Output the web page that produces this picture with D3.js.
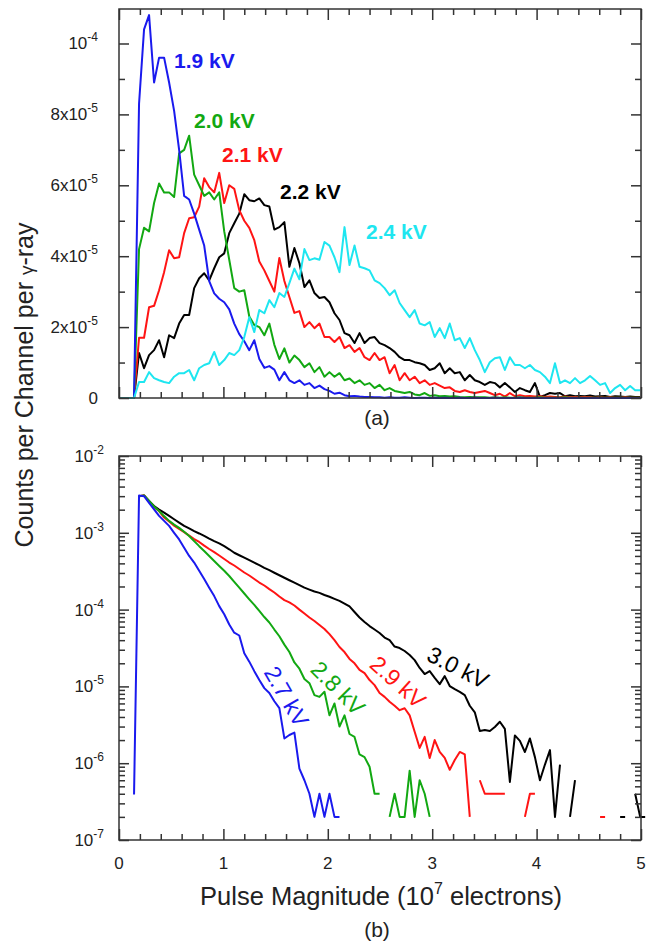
<!DOCTYPE html>
<html><head><meta charset="utf-8">
<script src="https://cdn.jsdelivr.net/npm/d3@7"></script>
<style>body{margin:0;background:#fff} svg{display:block}</style>
</head><body>
<svg id="c" width="649" height="948"></svg>
<script>
// ---------------- DATA ----------------
const binWidth = 0.048;              // channel width, 10^7 electrons
const xTicks = [0, 1, 2, 3, 4, 5];
const topTickValues = [0, 2, 4, 6, 8, 10];   // units of 1e-5
const topTickLabels = ["0", "2x10|-5", "4x10|-5", "6x10|-5", "8x10|-5", "10|-4"];
const botTickValues = [1e-7, 1e-6, 1e-5, 1e-4, 1e-3, 1e-2];
const botTickLabels = ["10|-7", "10|-6", "10|-5", "10|-4", "10|-3", "10|-2"];

const topSeriesNames = ["2.2 kV", "2.1 kV", "2.0 kV", "1.9 kV", "2.4 kV"];
const botSeriesNames = ["3.0 kV", "2.9 kV", "2.8 kV", "2.7 kV"];

// (a) counts per channel per gamma-ray, in units of 1e-5
const kv19 = [0,0,0, 0, 8.3, 10.4, 10.8, 8.9, 9.6, 9.6, 8.9, 8.1, 7.0,
  5.7, 5.6, 5.2, 4.75, 4.3, 3.3, 2.95, 2.8, 2.7, 2.5,
  2.1, 1.8, 1.6, 1.35, 1.63, 1.1, 0.85, 0.9, 0.8, 0.5,
  0.73, 0.5, 0.42, 0.5, 0.37, 0.42, 0.28, 0.35, 0.25, 0.2,
  0.12, 0.15, 0.08, 0.05, 0.06, 0.04, 0.03, 0.03, 0.02, 0.02,
  0.01, 0.02, 0.01, 0.01, 0.02, 0.01, 0, 0.01, 0.01, 0,
  0.01, 0, 0.01, 0, 0, 0.01, 0, 0, 0.01, 0,
  0, 0, 0.01, 0, 0, 0, 0, 0.01, 0, 0,
  0, 0, 0, 0, 0, 0, 0, 0, 0, 0,
  0, 0, 0, 0, 0, 0, 0, 0, 0, 0, 0, 0];
const kv20 = [0,0,0, 0, 4.2, 4.8, 4.7, 5.5, 6.05, 5.8, 5.8, 5.67, 6.9,
  7.0, 7.4, 6.3, 6.0, 5.7, 5.8, 5.6, 5.8, 4.7, 3.9,
  3.1, 3.0, 3.04, 2.3, 2.06, 2.0, 1.77, 2.1, 1.5, 1.1,
  1.4, 1.0, 1.2, 1.07, 0.87, 0.98, 0.73, 0.87, 0.6, 0.73,
  0.6, 0.7, 0.5, 0.55, 0.42, 0.5, 0.37, 0.42, 0.28, 0.37,
  0.22, 0.28, 0.2, 0.17, 0.14, 0.17, 0.1, 0.08, 0.14, 0.06,
  0.08, 0.05, 0.06, 0.04, 0.05, 0.03, 0.02, 0.03, 0.02, 0.02,
  0.02, 0.01, 0.02, 0.01, 0.02, 0.01, 0.01, 0.02, 0.01, 0.01,
  0.01, 0.02, 0.01, 0.01, 0.01, 0.01, 0.02, 0.01, 0.01, 0.01,
  0.01, 0.01, 0.01, 0.01, 0.01, 0.01, 0.01, 0.01, 0.01, 0.01, 0.01, 0.01];
const kv21 = [0,0,0, 0, 1.7, 1.7, 2.56, 2.6, 3.04, 3.55, 4.17, 3.94, 3.97,
  4.65, 5.07, 5.1, 5.4, 6.2, 5.95, 5.8, 6.35, 5.5, 6.0,
  5.9, 5.3, 5.0, 4.8, 4.45, 3.85, 3.6, 3.3, 3.0, 3.95,
  3.3, 2.85, 2.4, 2.45, 2.0, 2.14, 1.97, 2.1, 1.72, 1.72,
  1.58, 1.72, 1.41, 1.49, 1.3, 1.41, 1.15, 1.07, 1.27, 1.07,
  1.15, 0.7, 0.93, 0.5, 0.7, 0.5, 0.6, 0.42, 0.5, 0.37,
  0.42, 0.35, 0.28, 0.3, 0.2, 0.17, 0.22, 0.17, 0.14, 0.17,
  0.2, 0.14, 0.08, 0.12, 0.04, 0.14, 0.05, 0.08, 0.05, 0.06,
  0.04, 0.05, 0.03, 0.04, 0.03, 0.02, 0.04, 0.02, 0.03, 0.02,
  0.03, 0.02, 0.01, 0.02, 0.01, 0.02, 0.01, 0.01, 0.02, 0.01, 0.01, 0.01];
const kv22 = [0,0,0, 0, 1.27, 0.84, 1.21, 1.35, 1.63, 1.15, 1.77, 1.69, 2.1,
  2.34, 2.34, 3.1, 3.38, 3.52, 3.32, 3.66, 3.97, 4.08, 4.65,
  4.93, 5.2, 5.75, 5.58, 5.55, 5.63, 5.44, 5.4, 4.75, 4.82,
  4.96, 3.7, 4.23, 3.8, 3.13, 3.32, 2.96, 2.82, 2.85, 2.7,
  2.39, 2.2, 1.83, 1.77, 1.55, 1.83, 1.55, 1.69, 1.72, 1.55,
  1.49, 1.41, 1.3, 1.15, 1.07, 1.07, 1.01, 0.98, 0.93, 0.79,
  0.84, 0.98, 0.7, 0.84, 0.7, 0.73, 0.5, 0.65, 0.5, 0.45,
  0.37, 0.45, 0.42, 0.3, 0.42, 0.3, 0.17, 0.28, 0.22, 0.17,
  0.42, 0.03, 0.08, 0.14, 0.12, 0.14, 0.05, 0.08, 0.05, 0.06,
  0.05, 0.07, 0.04, 0.05, 0.06, 0.03, 0.05, 0.04, 0.03, 0.04, 0.03, 0.03];
const kv24 = [0,0,0, 0, 0.45, 0.45, 0.73, 0.56, 0.5, 0.45, 0.42, 0.6, 0.7,
  0.7, 0.79, 0.5, 0.84, 0.93, 0.98, 1.3, 0.93, 1.07, 1.27,
  1.21, 1.35, 1.72, 2.28, 1.86, 2.48, 2.39, 2.76, 2.56, 2.96,
  2.85, 3.24, 3.65, 3.35, 4.2, 3.89, 3.94, 3.9, 4.4, 4.3,
  3.97, 3.55, 4.82, 3.75, 4.3, 3.7, 3.66, 3.6, 3.32, 3.24,
  3.1, 2.9, 3.04, 2.68, 2.48, 2.28, 2.48, 2.1, 2.05, 2.14,
  1.72, 1.97, 1.69, 2.1, 1.63, 1.69, 1.41, 1.69, 1.35, 1.07,
  0.73, 1.01, 1.12, 1.15, 0.79, 1.15, 0.93, 0.93, 0.84, 0.93,
  0.79, 0.73, 0.6, 0.42, 0.98, 0.42, 0.5, 0.42, 0.56, 0.42,
  0.5, 0.62, 0.5, 0.37, 0.42, 0.14, 0.28, 0.37, 0.22, 0.34, 0.22, 0.22];

// (b) counts per channel per gamma-ray (log), null = empty channel
const kv27 = [null,null,null, 3.9e-7, 3.07e-3, 3.0e-3, 2.46e-3, 2.02e-3, 1.66e-3, 1.43e-3, 1.23e-3, 1.0e-3, 8.2e-4,
  6.4e-4, 5.0e-4, 4.1e-4, 3.2e-4, 2.5e-4, 1.93e-4, 1.5e-4, 1.11e-4, 8.7e-5, 6.4e-5,
  5.0e-5, 4.6e-5, 2.7e-5, 2.1e-5, 1.58e-5, 1.21e-5, 9.5e-6, 8.2e-6, 6.4e-6, 5.2e-6,
  2.1e-6, 2.33e-6, 2.5e-6, 8.5e-7, 6e-7, 4e-7, 2e-7, 4e-7, 2e-7, 4e-7,
  2e-7, 2e-7];
const kv28 = [null,null,null, null, 3.0e-3, 3.07e-3, 2.6e-3, 2.2e-3, 1.92e-3, 1.65e-3, 1.43e-3, 1.28e-3, 1.16e-3,
  1.03e-3, 9.1e-4, 7.8e-4, 6.7e-4, 5.8e-4, 5.0e-4, 4.3e-4, 3.7e-4, 3.2e-4, 2.74e-4,
  2.3e-4, 1.93e-4, 1.62e-4, 1.36e-4, 1.15e-4, 9.6e-5, 8.0e-5, 6.8e-5, 5.5e-5, 4.5e-5,
  3.5e-5, 2.8e-5, 2.05e-5, 1.7e-5, 1.25e-5, 1.1e-5, 7.7e-6, 7.3e-6, 8.5e-6, 4.2e-6,
  6.0e-6, 3.0e-6, 4.2e-6, 2.4e-6, 2.2e-6, 1.3e-6, 1.2e-6, 9e-7, 4e-7, 4e-7,
  null, 2e-7, 4e-7, 2e-7, 2e-7, 8e-7, 2e-7, 6e-7, 4e-7, 2e-7];
const kv29 = [null,null,null, null, 3.0e-3, 3.07e-3, 2.52e-3, 2.15e-3, 1.92e-3, 1.58e-3, 1.4e-3, 1.24e-3, 1.12e-3,
  1.02e-3, 9.2e-4, 8.3e-4, 7.6e-4, 6.8e-4, 6.15e-4, 5.6e-4, 5.06e-4, 4.56e-4, 4.1e-4,
  3.75e-4, 3.38e-4, 3.04e-4, 2.78e-4, 2.5e-4, 2.25e-4, 2.06e-4, 1.85e-4, 1.67e-4, 1.48e-4,
  1.33e-4, 1.24e-4, 1.13e-4, 1.0e-4, 8.9e-5, 7.9e-5, 7.1e-5, 6.3e-5, 5.6e-5, 4.8e-5,
  4.0e-5, 3.26e-5, 2.8e-5, 2.28e-5, 2.0e-5, 1.64e-5, 1.49e-5, 1.21e-5, 1.04e-5, 8.2e-6,
  7.3e-6, 6.3e-6, 5.6e-6, 4.9e-6, 5.2e-6, 4.2e-6, 2.57e-6, 1.58e-6, 2.2e-6, 1.17e-6,
  2.0e-6, 1.4e-6, 1.17e-6, 8.2e-7, 1.1e-6, 1.4e-6, 1.3e-6, 2e-7, null, 6e-7,
  4e-7, 4e-7, 4e-7, 4e-7, 4e-7, null, null, null, 2e-7, 4e-7,
  4e-7, null, null, null, null, null, null, null, null, null,
  null, null, null, 2e-7, 2e-7];
const kv30 = [null,null,null, null, 3.0e-3, 3.07e-3, 2.6e-3, 2.23e-3, 2.01e-3, 1.83e-3, 1.66e-3, 1.5e-3, 1.36e-3,
  1.23e-3, 1.14e-3, 1.05e-3, 9.8e-4, 9.1e-4, 8.4e-4, 7.8e-4, 7.3e-4, 6.7e-4, 6.1e-4,
  5.5e-4, 5.1e-4, 4.74e-4, 4.4e-4, 4.08e-4, 3.79e-4, 3.5e-4, 3.26e-4, 3.02e-4, 2.8e-4,
  2.6e-4, 2.41e-4, 2.24e-4, 2.08e-4, 1.93e-4, 1.82e-4, 1.72e-4, 1.65e-4, 1.55e-4, 1.47e-4,
  1.38e-4, 1.3e-4, 1.2e-4, 1.1e-4, 9.3e-5, 7.9e-5, 6.9e-5, 6.1e-5, 5.5e-5, 4.96e-5,
  4.33e-5, 4.0e-5, 3.3e-5, 3.16e-5, 2.89e-5, 2.56e-5, 2.2e-5, 1.74e-5, 1.45e-5, 1.58e-5,
  1.29e-5, 1.07e-5, 1.36e-5, 1.01e-5, 9.2e-6, 8.5e-6, 7.7e-6, 5.6e-6, 4.6e-6, 2.63e-6,
  2.7e-6, 2.63e-6, 2.96e-6, 3.47e-6, 2.8e-6, 5.7e-7, 2.3e-6, 1.95e-6, 1.4e-6, 2.1e-6,
  1.2e-6, 6e-7, 9.6e-7, 1.48e-6, 2e-7, 9.6e-7, null, 2e-7, 6e-7, null,
  null, null, null, null, null, null, null, 2e-7, 2e-7, null,
  4e-7, 2e-7, 2e-7];

// ---------------- LAYOUT ----------------
const svg = d3.select("#c");
const L = 119, R = 641;
const topT = 9, topB = 398, botT = 456, botB = 840;
const FONT = "'Liberation Sans', Arial, Helvetica, sans-serif";
const AX = "#333";

const x = d3.scaleLinear().domain([0, 5]).range([L, R]);
const yTop = d3.scaleLinear().domain([0, 10.973]).range([topB, topT]);
const yBot = d3.scaleLog().domain([1e-7, 1e-2]).range([botB, botT]);

const colorTop = {"1.9 kV": "#1a1aee", "2.0 kV": "#12a812", "2.1 kV": "#ff1414", "2.2 kV": "#000000", "2.4 kV": "#1ee6f0"};
const colorBot = {"2.7 kV": "#1a1aee", "2.8 kV": "#12a812", "2.9 kV": "#ff1414", "3.0 kV": "#000000"};
const topData = {"1.9 kV": kv19, "2.0 kV": kv20, "2.1 kV": kv21, "2.2 kV": kv22, "2.4 kV": kv24};
const botData = {"2.7 kV": kv27, "2.8 kV": kv28, "2.9 kV": kv29, "3.0 kV": kv30};

function pts(arr) { return arr.map((v, i) => ({x: i * binWidth, v})); }

// lines
const lineTop = d3.line().x(d => x(d.x)).y(d => yTop(d.v));
const lineBot = d3.line().defined(d => d.v != null && d.v > 0).x(d => x(d.x)).y(d => yBot(d.v));

const gLines = svg.append("g").attr("fill", "none").attr("stroke-width", 2).attr("stroke-linejoin", "round");
topSeriesNames.forEach(n => {
  gLines.append("path").attr("d", lineTop(pts(topData[n]))).attr("stroke", colorTop[n]);
});
botSeriesNames.forEach(n => {
  gLines.append("path").attr("d", lineBot(pts(botData[n]))).attr("stroke", colorBot[n]);
});

// frames
[[topT, topB], [botT, botB]].forEach(([t, b]) => {
  svg.append("rect").attr("x", L).attr("y", t).attr("width", R - L).attr("height", b - t)
    .attr("fill", "none").attr("stroke", AX).attr("stroke-width", 1.5);
});

// tick helper (inward ticks)
function ticks(axisFn, scale, values, size, tx, ty) {
  const g = svg.append("g").attr("transform", `translate(${tx},${ty})`)
    .call(axisFn(scale).tickValues(values).tickSize(-size).tickFormat(""));
  g.select(".domain").remove();
  g.selectAll("line").attr("stroke", AX).attr("stroke-width", 1.5);
}
const xMinor = d3.range(0, 5.0001, 0.2).filter(v => Math.abs(v - Math.round(v)) > 1e-6);
[[topT, topB], [botT, botB]].forEach(([t, b]) => {
  ticks(d3.axisBottom, x, xTicks, 11, 0, b);
  ticks(d3.axisBottom, x, xMinor, 6, 0, b);
  ticks(d3.axisTop, x, xTicks, 11, 0, t);
  ticks(d3.axisTop, x, xMinor, 6, 0, t);
});
const yTopMinor = [1, 3, 5, 7, 9];
ticks(d3.axisLeft, yTop, topTickValues, 10, L, 0);
ticks(d3.axisLeft, yTop, yTopMinor, 6, L, 0);
ticks(d3.axisRight, yTop, topTickValues, 10, R, 0);
ticks(d3.axisRight, yTop, yTopMinor, 6, R, 0);
const botMinor = [];
botTickValues.slice(0, -1).forEach(d => { for (let m = 2; m <= 9; m++) botMinor.push(d * m); });
ticks(d3.axisLeft, yBot, botTickValues, 10, L, 0);
ticks(d3.axisLeft, yBot, botMinor, 6, L, 0);
ticks(d3.axisRight, yBot, botTickValues, 10, R, 0);
ticks(d3.axisRight, yBot, botMinor, 6, R, 0);

// tick labels with superscripts
function supLabel(g, str, xx, yy, anchor) {
  const [base, sup] = str.split("|");
  const t = g.append("text").attr("x", xx).attr("y", yy).attr("text-anchor", anchor)
    .attr("font-family", FONT).attr("font-size", 17).attr("fill", "#222");
  t.append("tspan").text(base);
  if (sup) t.append("tspan").attr("font-size", 12).attr("dy", -8).text(sup);
}
const gl = svg.append("g");
topTickValues.forEach((v, i) => supLabel(gl, topTickLabels[i], 98, yTop(v) + 6, "end"));
botTickValues.forEach((v, i) => supLabel(gl, botTickLabels[i], 104, yBot(v) + 6, "end"));
xTicks.forEach(v => supLabel(gl, String(v), x(v), 869, "middle"));

// panel tags
svg.append("text").attr("x", 377).attr("y", 425).attr("text-anchor", "middle")
  .attr("font-family", FONT).attr("font-size", 21).attr("fill", "#222").text("(a)");
svg.append("text").attr("x", 377).attr("y", 937).attr("text-anchor", "middle")
  .attr("font-family", FONT).attr("font-size", 21).attr("fill", "#222").text("(b)");

// axis titles
const xt = svg.append("text").attr("x", 381).attr("y", 905).attr("text-anchor", "middle")
  .attr("font-family", FONT).attr("font-size", 25.5).attr("fill", "#222");
xt.append("tspan").text("Pulse Magnitude (10");
xt.append("tspan").attr("font-size", 16).attr("dy", -11).text("7");
xt.append("tspan").attr("dy", 11).text(" electrons)");

const yt = svg.append("text").attr("transform", "translate(33,385) rotate(-90)").attr("text-anchor", "middle")
  .attr("font-family", FONT).attr("font-size", 25).attr("fill", "#222");
yt.append("tspan").text("Counts per Channel per ");
yt.append("tspan").attr("font-size", 19).text("γ");
yt.append("tspan").text("-ray");

// series labels (a)
const topLabelPos = {"1.9 kV": [0.527, 9.30], "2.0 kV": [0.718, 7.61], "2.1 kV": [0.987, 6.65], "2.2 kV": [1.542, 5.61], "2.4 kV": [2.366, 4.48]};
topSeriesNames.forEach(n => {
  svg.append("text").attr("x", x(topLabelPos[n][0])).attr("y", yTop(topLabelPos[n][1]))
    .attr("font-family", FONT).attr("font-size", 21).attr("font-weight", "bold")
    .attr("fill", colorTop[n]).text(n);
});
// series labels (b), rotated along curves
const botLabelPos = {"2.7 kV": [1.604, 7.4e-6, 60], "2.8 kV": [2.098, 9.5e-6, 45], "2.9 kV": [2.672, 1.14e-5, 42], "3.0 kV": [3.247, 1.76e-5, 27]};
botSeriesNames.forEach(n => {
  const [px, py, ang] = botLabelPos[n];
  svg.append("text").attr("transform", `translate(${x(px)},${yBot(py)}) rotate(${ang})`)
    .attr("text-anchor", "middle").attr("dominant-baseline", "central")
    .attr("font-family", FONT).attr("font-size", 23)
    .attr("fill", colorBot[n]).text(n);
});
</script>
</body></html>
